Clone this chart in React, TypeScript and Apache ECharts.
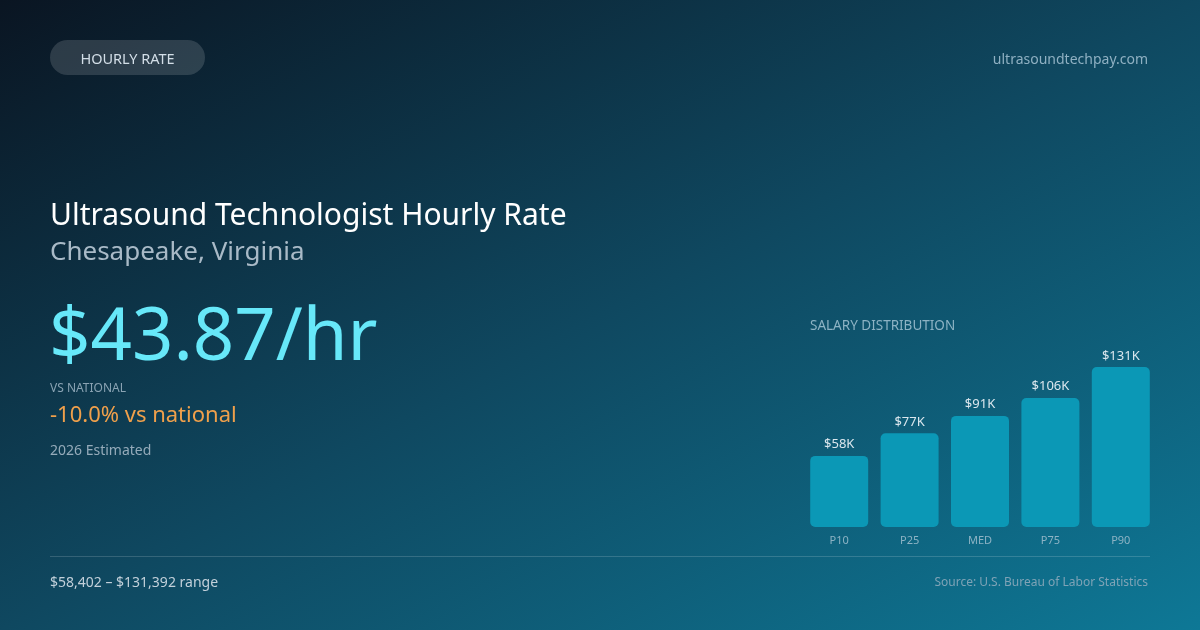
import React, { useEffect, useRef } from 'react';
import * as echarts from 'echarts';

// Salary distribution (annual, USD)
const percentiles = ['P10', 'P25', 'MED', 'P75', 'P90'];
const salaries = [58402, 77000, 91250, 106000, 131392];

const hourlyRate = '$43.87/hr';
const vsNational = '-10.0% vs national';
const rangeText = '$58,402 – $131,392 range';

const FONT = '"Noto Sans", "Open Sans", sans-serif';

export default function App() {
  const chartRef = useRef<HTMLDivElement>(null);

  useEffect(() => {
    if (!chartRef.current) return;
    const chart = echarts.init(chartRef.current, null, { renderer: 'svg' });

    const text = (x: number, y: number, t: string, size: number, fill: string, align = 'left') => ({
      type: 'text',
      x,
      y,
      z: 10,
      style: {
        text: t,
        fill,
        font: `normal ${size}px ${FONT}`,
        textAlign: align,
        textVerticalAlign: 'middle'
      }
    });

    const option: echarts.EChartsOption = {
      animation: false,
      graphic: [
        {
          type: 'rect',
          z: -10,
          shape: { x: 0, y: 0, width: 1200, height: 630 },
          style: {
            fill: new echarts.graphic.LinearGradient(0, 0, 1, 1, [
              { offset: 0, color: '#0a1522' },
              { offset: 0.5, color: '#0f4860' },
              { offset: 1, color: '#0e7896' }
            ])
          }
        },
        // pill
        {
          type: 'rect',
          shape: { x: 50, y: 40, width: 155, height: 35, r: 17.5 },
          style: { fill: 'rgba(255,255,255,0.14)' }
        },
        text(127.5, 58, 'HOURLY RATE', 14.5, '#d3dee7', 'center'),
        text(1148, 58, 'ultrasoundtechpay.com', 14, '#8fb0c2', 'right'),
        text(50, 213, 'Ultrasound Technologist Hourly Rate', 30, '#ffffff'),
        text(50, 250, 'Chesapeake, Virginia', 26, '#a9bac7'),
        text(49, 331, hourlyRate, 72.5, '#67e8f9'),
        text(50, 387, 'VS NATIONAL', 12, '#8aa3b3'),
        text(50, 413, vsNational, 22, '#f0a04b'),
        text(50, 449, '2026 Estimated', 14, '#95abba'),
        text(810, 325, 'SALARY DISTRIBUTION', 13.5, '#8db3c4'),
        {
          type: 'line',
          shape: { x1: 50, y1: 556.5, x2: 1150, y2: 556.5 },
          style: { stroke: 'rgba(255,255,255,0.16)', lineWidth: 1 }
        },
        text(50, 581, rangeText, 14, '#c2d0da'),
        text(1148, 581, 'Source: U.S. Bureau of Labor Statistics', 12, '#7fa3b6', 'right')
      ] as any,
      grid: {
        left: 804,
        top: 367,
        width: 352,
        height: 160
      },
      xAxis: {
        type: 'category',
        data: percentiles,
        axisLine: { show: false },
        axisTick: { show: false },
        axisLabel: {
          color: '#8db3c4',
          fontSize: 11,
          fontFamily: FONT,
          margin: 7
        }
      },
      yAxis: {
        type: 'value',
        min: 0,
        max: 'dataMax',
        show: false
      },
      series: [
        {
          type: 'bar',
          data: salaries,
          barWidth: 58,
          itemStyle: {
            color: '#0b98b6',
            borderRadius: 5
          },
          label: {
            show: true,
            position: 'top',
            distance: 6,
            color: '#dbe7ee',
            fontSize: 13,
            fontFamily: FONT,
            formatter: (p: any) => `$${Math.round(p.value / 1000)}K`
          }
        }
      ]
    };

    chart.setOption(option);

    return () => {
      chart.dispose();
    };
  }, []);

  return (
    <div
      ref={chartRef}
      style={{ position: 'fixed', left: 0, top: 0, width: 1200, height: 630 }}
    />
  );
}
